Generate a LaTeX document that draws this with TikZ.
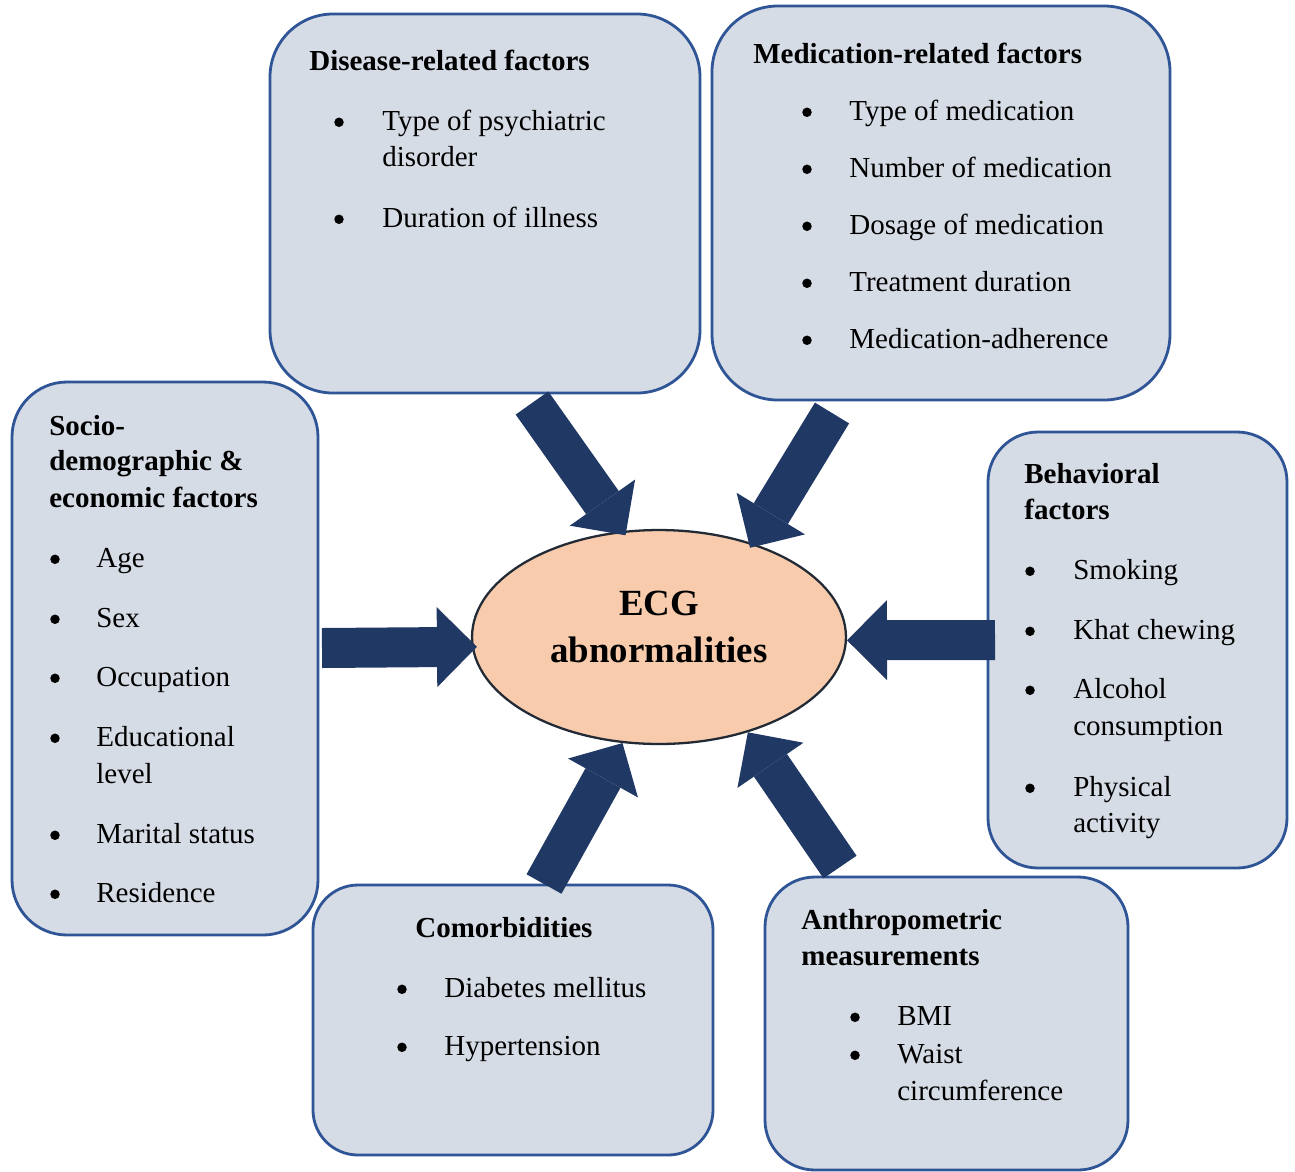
\documentclass[tikz,border=0pt]{standalone}
\usepackage{fontspec}
\setmainfont{Liberation Serif}
\usetikzlibrary{arrows.meta,fit,shapes.geometric}
\definecolor{boxfill}{HTML}{D6DCE5}
\definecolor{boxline}{HTML}{2F5597}
\definecolor{arrowblue}{HTML}{203864}
\definecolor{ecgfill}{HTML}{F8CBAD}
\definecolor{ecgline}{HTML}{222A35}
\tikzset{
  factorbox/.style={draw=boxline,fill=boxfill,line width=1.6pt,inner sep=0pt},
  boxtitle/.style={anchor=base west,inner sep=0pt,font=\fontsize{16.5}{20}\selectfont\bfseries},
  boxitem/.style={anchor=base west,inner sep=0pt,font=\fontsize{16.5}{20}\selectfont},
  bulletdot/.style={circle,fill=black,inner sep=0pt,minimum size=0.19cm,yshift=4.4pt},
  ecgshape/.style={ellipse,draw=ecgline,fill=ecgfill,line width=1.3pt,
    minimum width=7.48cm,minimum height=4.28cm,inner sep=0pt},
  ecgtext/.style={align=center,inner sep=0pt,font=\fontsize{21}{26.6}\selectfont\bfseries},
  flow/.style={draw=arrowblue,line width=0.8cm,
    -{Triangle[length=0.8cm,width=1.6cm,line width=0pt]}},
}
\begin{document}
\begin{tikzpicture}[x=0.02cm,y=-0.02cm]
  \fill[white] (0,0) rectangle (1295,1171);
  \useasboundingbox (0,0) rectangle (1295,1171);

  % factor boxes
  \node[factorbox,rounded corners=1.26cm,fit={(270,14) (700,393)}] (dis) {};
  \node[factorbox,rounded corners=1.32cm,fit={(712,6) (1170,400)}] (med) {};
  \node[factorbox,rounded corners=1.1cm,fit={(12,382) (318,935)}] (soc) {};
  \node[factorbox,rounded corners=1.0cm,fit={(988,432) (1287,868)}] (beh) {};
  \node[factorbox,rounded corners=0.9cm,fit={(313,885) (713,1155)}] (com) {};
  \node[factorbox,rounded corners=1.0cm,fit={(765,877) (1128,1170)}] (ant) {};

  % disease-related
  \node[boxtitle] (dis-t) at (309,70) {Disease-related factors};
  \node[bulletdot] (dis-b1) at (339,130) {};
  \node[bulletdot] (dis-b2) at (339,227) {};
  \node[boxitem] (dis-1) at (382,130) {Type of psychiatric};
  \node[boxitem] (dis-1a) at (382,166) {disorder};
  \node[boxitem] (dis-2) at (382,227) {Duration of illness};

  % medication-related
  \node[boxtitle] (med-t) at (753,63) {Medication-related factors};
  \foreach \y [count=\i] in {120,177,234,291,348}
    \node[bulletdot] (med-b\i) at (807,\y) {};
  \node[boxitem] (med-1) at (849,120) {Type of medication};
  \node[boxitem] (med-2) at (849,177) {Number of medication};
  \node[boxitem] (med-3) at (849,234) {Dosage of medication};
  \node[boxitem] (med-4) at (849,291) {Treatment duration};
  \node[boxitem] (med-5) at (849,348) {Medication-adherence};

  % socio-demographic
  \node[boxtitle] (soc-t1) at (49,435) {Socio-};
  \node[boxtitle] (soc-t2) at (49,470) {demographic \&};
  \node[boxtitle] (soc-t3) at (49,507) {economic factors};
  \foreach \y [count=\i] in {567,627,686,746,843,902}
    \node[bulletdot] (soc-b\i) at (55,\y) {};
  \node[boxitem] (soc-1) at (96,567) {Age};
  \node[boxitem] (soc-2) at (96,627) {Sex};
  \node[boxitem] (soc-3) at (96,686) {Occupation};
  \node[boxitem] (soc-4) at (96,746) {Educational};
  \node[boxitem] (soc-4a) at (96,783) {level};
  \node[boxitem] (soc-5) at (96,843) {Marital status};
  \node[boxitem] (soc-6) at (96,902) {Residence};

  % behavioral
  \node[boxtitle] (beh-t1) at (1024,483) {Behavioral};
  \node[boxtitle] (beh-t2) at (1024,519) {factors};
  \foreach \y [count=\i] in {579,639,698,796}
    \node[bulletdot] (beh-b\i) at (1030,\y) {};
  \node[boxitem] (beh-1) at (1073,579) {Smoking};
  \node[boxitem] (beh-2) at (1073,639) {Khat chewing};
  \node[boxitem] (beh-3) at (1073,698) {Alcohol};
  \node[boxitem] (beh-3a) at (1073,735) {consumption};
  \node[boxitem] (beh-4) at (1073,796) {Physical};
  \node[boxitem] (beh-4a) at (1073,832) {activity};

  % comorbidities
  \node[boxtitle] (com-t) at (415,937) {Comorbidities};
  \node[bulletdot] (com-b1) at (402,997) {};
  \node[bulletdot] (com-b2) at (402,1055) {};
  \node[boxitem] (com-1) at (444,997) {Diabetes mellitus};
  \node[boxitem] (com-2) at (444,1055) {Hypertension};

  % anthropometric
  \node[boxtitle] (ant-t1) at (801,929) {Anthropometric};
  \node[boxtitle] (ant-t2) at (801,965) {measurements};
  \node[bulletdot] (ant-b1) at (855,1025) {};
  \node[bulletdot] (ant-b2) at (855,1063) {};
  \node[boxitem] (ant-1) at (897,1025) {BMI};
  \node[boxitem] (ant-2) at (897,1063) {Waist};
  \node[boxitem] (ant-2a) at (897,1100) {circumference};

  % outcome
  \node[ecgshape] (ecg) at (659,637) {};
  \node[ecgtext] (ecg-txt) at (659,627) {ECG\\abnormalities};

  % block arrows
  \coordinate (disTail) at (532,403);
  \coordinate (medTail) at (832,413);
  \coordinate (socTail) at (322,648);
  \coordinate (behTail) at (995,640);
  \coordinate (comTail) at (544,884);
  \coordinate (antTail) at (840,867);
  \draw[flow,shorten >=-3pt] (disTail) -- (ecg.109);
  \draw[flow,shorten >=-3pt] (medTail) -- (ecg.45);
  \draw[flow,shorten >=-3pt] (socTail) -- (ecg.183);
  \draw[flow] (behTail) -- (ecg.-1);
  \draw[flow] (comTail) -- (ecg.251);
  \draw[flow] (antTail) -- (ecg.-47);
\end{tikzpicture}
\end{document}
